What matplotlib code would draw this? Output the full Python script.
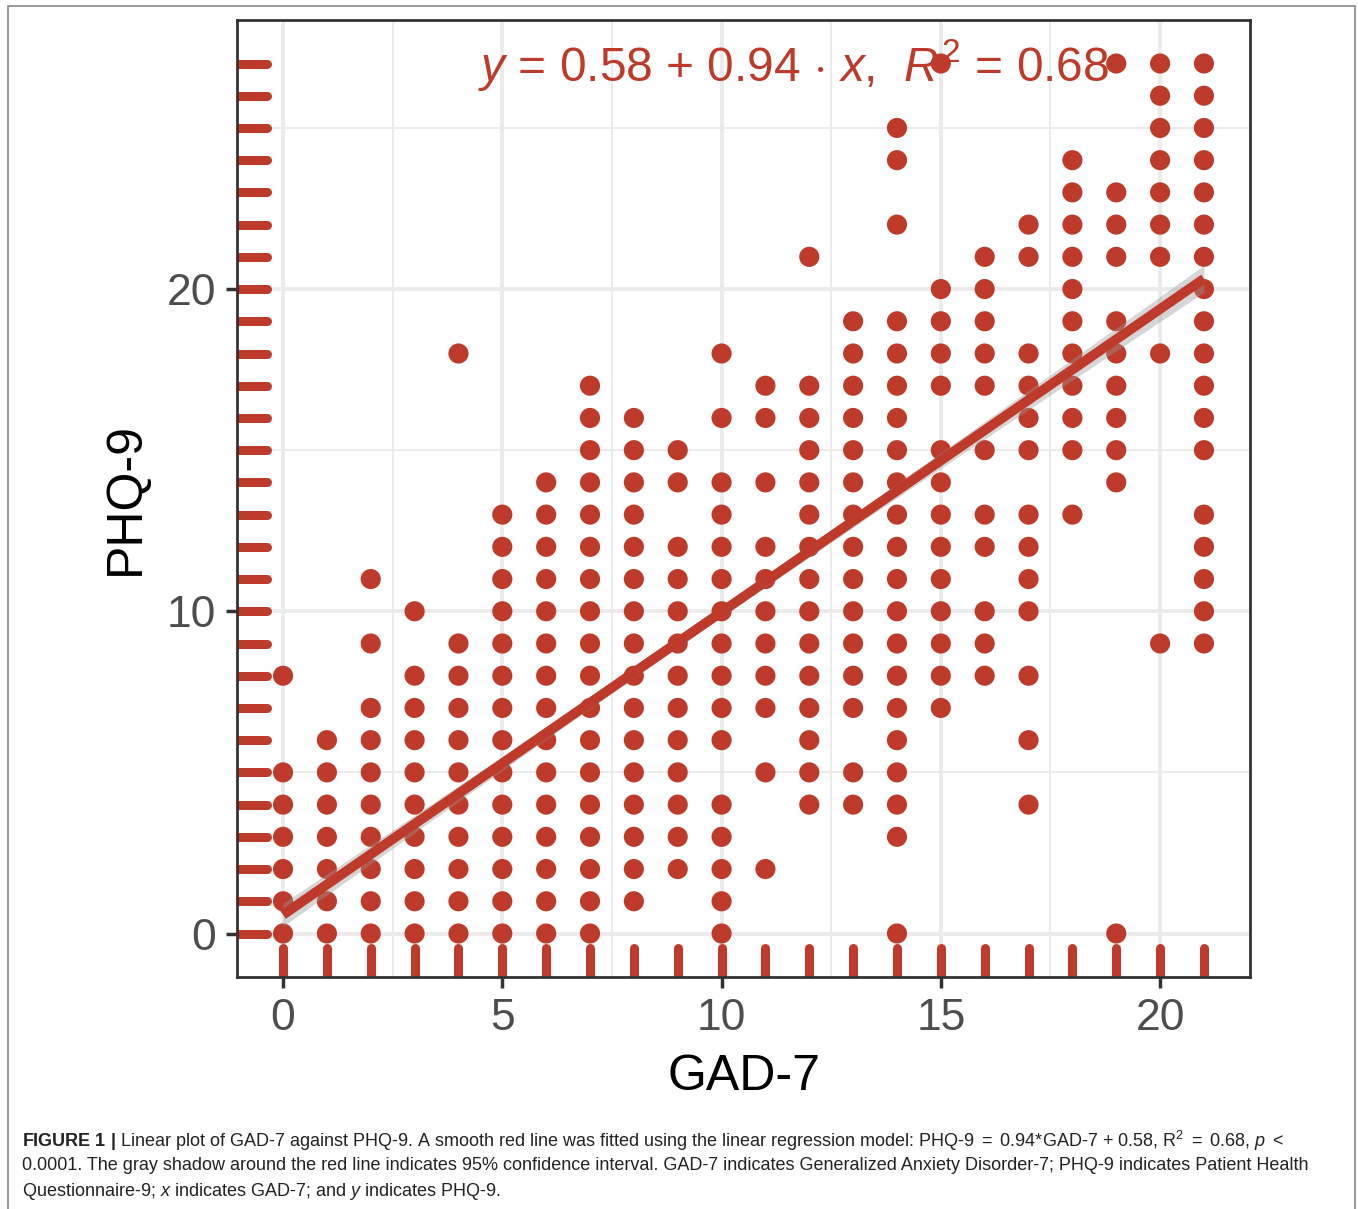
import numpy as np
import matplotlib
matplotlib.use("Agg")
import matplotlib.pyplot as plt
from matplotlib.patches import Rectangle
import matplotlib.transforms as mtransforms

# ---- data ----
gad7_levels = [0, 1, 2, 3, 4, 5, 6, 7, 8, 9, 10, 11, 12, 13, 14, 15, 16, 17, 18, 19, 20, 21]
phq9_by_gad7 = [
    [0, 1, 2, 3, 4, 5, 8],
    [0, 1, 2, 3, 4, 5, 6],
    [0, 1, 2, 3, 4, 5, 6, 7, 9, 11],
    [0, 1, 2, 3, 4, 5, 6, 7, 8, 10],
    [0, 1, 2, 3, 4, 5, 6, 7, 8, 9, 18],
    [0, 1, 2, 3, 4, 5, 6, 7, 8, 9, 10, 11, 12, 13],
    [0, 1, 2, 3, 4, 5, 6, 7, 8, 9, 10, 11, 12, 13, 14],
    [0, 1, 2, 3, 4, 5, 6, 7, 8, 9, 10, 11, 12, 13, 14, 15, 16, 17],
    [1, 2, 3, 4, 5, 6, 7, 8, 9, 10, 11, 12, 13, 14, 15, 16],
    [2, 3, 4, 5, 6, 7, 8, 9, 10, 11, 12, 14, 15],
    [0, 1, 2, 3, 4, 6, 7, 8, 9, 10, 11, 12, 13, 14, 16, 18],
    [2, 5, 7, 8, 9, 10, 11, 12, 14, 16, 17],
    [4, 5, 6, 7, 8, 9, 10, 11, 12, 13, 14, 15, 16, 17, 21],
    [4, 5, 7, 8, 9, 10, 11, 12, 13, 14, 15, 16, 17, 18, 19],
    [0, 3, 4, 5, 6, 7, 8, 9, 10, 11, 12, 13, 14, 15, 16, 17, 18, 19, 22, 24, 25],
    [7, 8, 9, 10, 11, 12, 13, 14, 15, 17, 18, 19, 20, 27],
    [8, 9, 10, 12, 13, 15, 17, 18, 19, 20, 21],
    [4, 6, 8, 10, 11, 12, 13, 15, 16, 17, 18, 21, 22],
    [13, 15, 16, 17, 18, 19, 20, 21, 22, 23, 24],
    [0, 14, 15, 16, 17, 18, 19, 21, 22, 23, 27],
    [9, 18, 21, 22, 23, 24, 25, 26, 27],
    [9, 10, 11, 12, 13, 15, 16, 17, 18, 19, 20, 21, 22, 23, 24, 25, 26, 27],
]

fit_intercept = 0.58
fit_slope = 0.94
fit_r2 = 0.68
# 95% CI half-width of the fitted line (narrowest near the mean, widest at the ends)
ci_mean_x = 9.5
ci_min_half = 0.16
ci_end_half = 0.42

x_ticks = [0, 5, 10, 15, 20]
y_ticks = [0, 10, 20]

caption_lines = [
    r"$\mathbf{FIGURE\ 1\ |}$ Linear plot of GAD-7 against PHQ-9. A smooth red line was fitted using the linear regression model: PHQ-9 $=$ 0.94*GAD-7 $+$ 0.58, R$^2$ $=$ 0.68, $p$ $<$",
    "0.0001. The gray shadow around the red line indicates 95% confidence interval. GAD-7 indicates Generalized Anxiety Disorder-7; PHQ-9 indicates Patient Health",
    r"Questionnaire-9; $x$ indicates GAD-7; and $y$ indicates PHQ-9.",
]

# ---- style ----
plt.rcParams["font.family"] = ["Liberation Sans", "DejaVu Sans"]
plt.rcParams["mathtext.fontset"] = "custom"
plt.rcParams["mathtext.rm"] = "Liberation Sans"
plt.rcParams["mathtext.it"] = "Liberation Sans:italic"
plt.rcParams["mathtext.bf"] = "Liberation Sans:bold"

red = "#BE3A2A"

xs = []
ys = []
for g, vals in zip(gad7_levels, phq9_by_gad7):
    for v in vals:
        xs.append(g)
        ys.append(v)
xs = np.array(xs)
ys = np.array(ys)

W, H = 1358, 1209
fig = plt.figure(figsize=(W / 100, H / 100), dpi=100)
ax = fig.add_axes([237 / W, 1 - 977 / H, (1250 - 237) / W, (977 - 20) / H])

ax.set_xlim(-1.05, 22.05)
ax.set_ylim(-1.35, 28.35)

# grid like theme_bw
for v in [2.5, 7.5, 12.5, 17.5]:
    ax.axvline(v, color="#EBEBEB", lw=1.4, zorder=0)
for v in [5, 15, 25]:
    ax.axhline(v, color="#EBEBEB", lw=1.4, zorder=0)
for v in x_ticks:
    ax.axvline(v, color="#EBEBEB", lw=2.8, zorder=0)
for v in y_ticks:
    ax.axhline(v, color="#EBEBEB", lw=2.8, zorder=0)

# equation label (under the points, as in the original)
ax.text(11.65, 26.45, r"$y$ = 0.58 + 0.94 $\cdot$ $x$,  $R^2$ = 0.68",
        color=red, fontsize=34.5, ha="center", va="baseline", zorder=1)

# points
ax.scatter(xs, ys, s=210, color=red, edgecolors="none", zorder=2)

# confidence band and fitted line
xfit = np.linspace(min(gad7_levels), max(gad7_levels), 200)
yfit = fit_intercept + fit_slope * xfit
span = max(gad7_levels) - ci_mean_x
half = np.sqrt(ci_min_half ** 2 + (ci_end_half ** 2 - ci_min_half ** 2) * ((xfit - ci_mean_x) / span) ** 2)
ax.fill_between(xfit, yfit - half, yfit + half, color="#999999", alpha=0.4, lw=0, zorder=3)
ax.plot(xfit, yfit, color=red, lw=7, solid_capstyle="butt", zorder=4)

# rugs
trans_y = mtransforms.blended_transform_factory(ax.transAxes, ax.transData)
for v in sorted(set(ys.tolist())):
    ax.plot([0, 0.03], [v, v], transform=trans_y, color=red, lw=6.5,
            solid_capstyle="round", clip_on=True, zorder=2)
trans_x = mtransforms.blended_transform_factory(ax.transData, ax.transAxes)
for v in sorted(set(xs.tolist())):
    ax.plot([v, v], [0, 0.03], transform=trans_x, color=red, lw=6.5,
            solid_capstyle="round", clip_on=True, zorder=2)

# axes
for sp in ax.spines.values():
    sp.set_color("#333333")
    sp.set_linewidth(2)
ax.set_xticks(x_ticks)
ax.set_yticks(y_ticks)
ax.tick_params(axis="both", length=8, width=2.5, color="#333333",
               labelsize=32, labelcolor="#4D4D4D", pad=7)
ax.set_xlabel("GAD-7", fontsize=36, color="black")
ax.set_ylabel("PHQ-9", fontsize=36, color="black")
ax.xaxis.set_label_coords(0.5, -0.105)
ax.yaxis.set_label_coords(-0.11, 0.5)
ax.xaxis.label.set_va("center")
ax.yaxis.label.set_va("center")

# outer frame of the figure box
fig.patches.append(Rectangle((8 / W, -0.01), (1355 - 8) / W, 1 - 6 / H + 0.01,
                             transform=fig.transFigure, fill=False,
                             edgecolor="#888888", lw=1.2))

# caption
for i, line in enumerate(caption_lines):
    fig.text(22 / W, 1 - (1141 + 25 * i) / H, line, fontsize=13.0,
             color="#222222", ha="left", va="center")

fig.savefig("out.png", dpi=100)
